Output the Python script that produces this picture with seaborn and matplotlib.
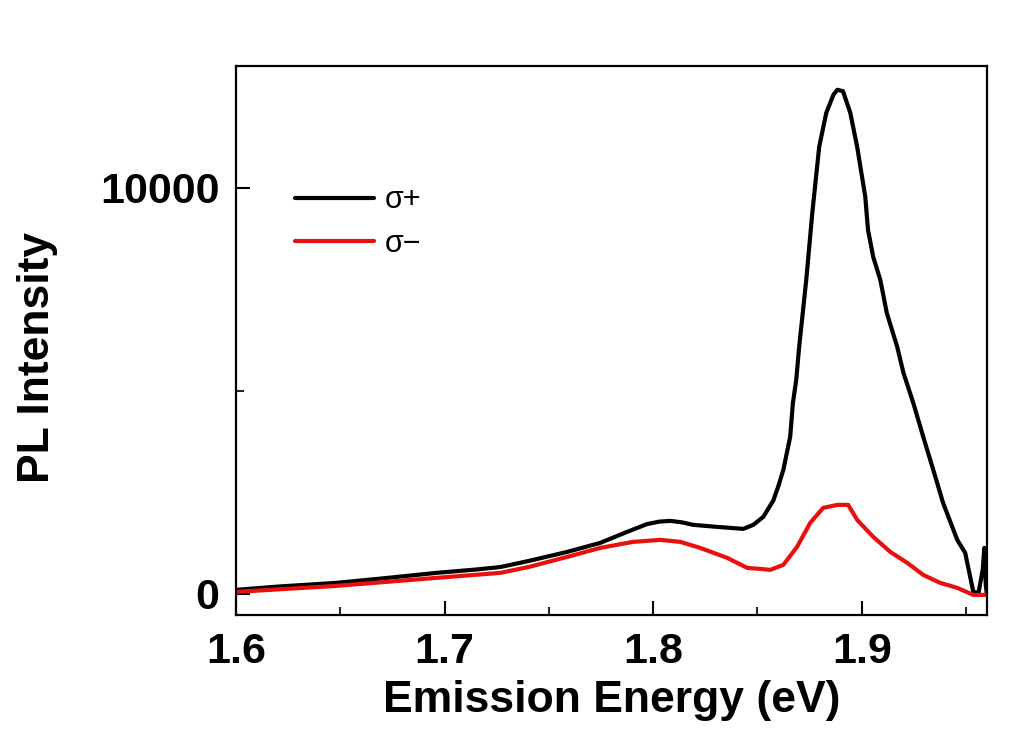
import matplotlib
matplotlib.use("Agg")
import matplotlib.pyplot as plt
import seaborn as sns
import pandas as pd
from matplotlib.ticker import MultipleLocator, FixedLocator, FormatStrFormatter

# sigma+ (black)
energy_plus = [1.600, 1.620, 1.648, 1.670, 1.696, 1.715, 1.7266, 1.7405, 1.7588, 1.7746,
               1.7875, 1.7971, 1.8030, 1.8082, 1.8140, 1.8192, 1.8307, 1.8432, 1.848, 1.8528,
               1.8576, 1.8600, 1.8624, 1.8657, 1.867, 1.8686, 1.870, 1.8734, 1.8763, 1.8796,
               1.883, 1.8865, 1.8883, 1.891, 1.8945, 1.8978, 1.9017, 1.903, 1.9055, 1.9089,
               1.912, 1.917, 1.920, 1.9247, 1.9295, 1.9343, 1.939, 1.9458, 1.9496, 1.952,
               1.9535, 1.956, 1.958, 1.9588, 1.9595, 1.960]
intensity_plus = [99, 180, 271, 380, 517, 600, 660, 813, 1034, 1256,
                  1527, 1720, 1780, 1798, 1760, 1700, 1650, 1601, 1700, 1897,
                  2300, 2650, 3054, 3867, 4704, 5271, 6084, 7734, 9384, 11010,
                  11847, 12300, 12414, 12380, 11847, 11010, 9778, 8966, 8300, 7734,
                  6921, 6084, 5443, 4704, 3867, 3054, 2241, 1330, 1010, 419,
                  49, 25, 591, 1133, 200, 0]

# sigma- (red)
energy_minus = [1.600, 1.648, 1.696, 1.7266, 1.7405, 1.7588, 1.7746, 1.7904, 1.8034, 1.813,
                1.8225, 1.8355, 1.8451, 1.8528, 1.8561, 1.8624, 1.869, 1.8753, 1.8815, 1.8883,
                1.8935, 1.8978, 1.9055, 1.9137, 1.9218, 1.9295, 1.9376, 1.9458, 1.9535, 1.959,
                1.960]
intensity_minus = [49, 197, 394, 517, 665, 911, 1133, 1281, 1330, 1281,
                   1133, 887, 640, 610, 591, 714, 1158, 1749, 2118, 2192,
                   2192, 1823, 1404, 1034, 764, 468, 271, 148, -25, -25,
                   20]

labels = ["σ+", "σ−"]
colors = ["#000000", "#e8100f"]

df = pd.concat([
    pd.DataFrame({"E": energy_plus, "I": intensity_plus, "s": labels[0]}),
    pd.DataFrame({"E": energy_minus, "I": intensity_minus, "s": labels[1]}),
])

sns.set_theme(style="ticks")
plt.rcParams["font.family"] = ["Liberation Sans", "DejaVu Sans"]
plt.rcParams["text.color"] = "black"
plt.rcParams["axes.labelcolor"] = "black"

fig = plt.figure(figsize=(10.28, 7.56), dpi=100)
ax = fig.add_axes([0.2296, 0.1865, 0.7304, 0.7262])

sns.lineplot(data=df, x="E", y="I", hue="s", palette=colors, sort=False,
             linewidth=3.0, ax=ax, estimator=None)

ax.set_xlim(1.6, 1.96)
ax.set_ylim(-520, 13000)
ax.xaxis.set_major_locator(MultipleLocator(0.1))
ax.xaxis.set_minor_locator(MultipleLocator(0.05))
ax.yaxis.set_major_locator(FixedLocator([0, 10000]))
ax.yaxis.set_minor_locator(FixedLocator([5000]))
ax.xaxis.set_major_formatter(FormatStrFormatter("%.1f"))
ax.yaxis.set_major_formatter(FormatStrFormatter("%d"))

ax.tick_params(which="major", direction="in", length=10, width=1.5, pad=12,
               labelsize=31, colors="black", top=False, right=False,
               labeltop=False, labelright=False)
ax.tick_params(which="minor", direction="in", length=6, width=1.5, top=False, right=False)
for lab in ax.get_xticklabels() + ax.get_yticklabels():
    lab.set_fontweight("bold")
for sp in ax.spines.values():
    sp.set_visible(True)
    sp.set_linewidth(1.6)
    sp.set_color("black")

ax.set_xlabel("Emission Energy (eV)", fontsize=32, fontweight="bold", labelpad=6,
              color="black")
ax.set_ylabel("PL Intensity", fontsize=32, fontweight="bold", color="black")
ax.yaxis.set_label_coords(-0.237, 0.47)

leg = ax.legend(loc="upper left", bbox_to_anchor=(0.062, 0.805), frameon=False,
                fontsize=22, handlelength=2.6, handletextpad=0.35, labelspacing=0.45,
                borderaxespad=0)
for t in leg.get_texts():
    t.set_color("black")

fig.savefig("out.png", dpi=100)
